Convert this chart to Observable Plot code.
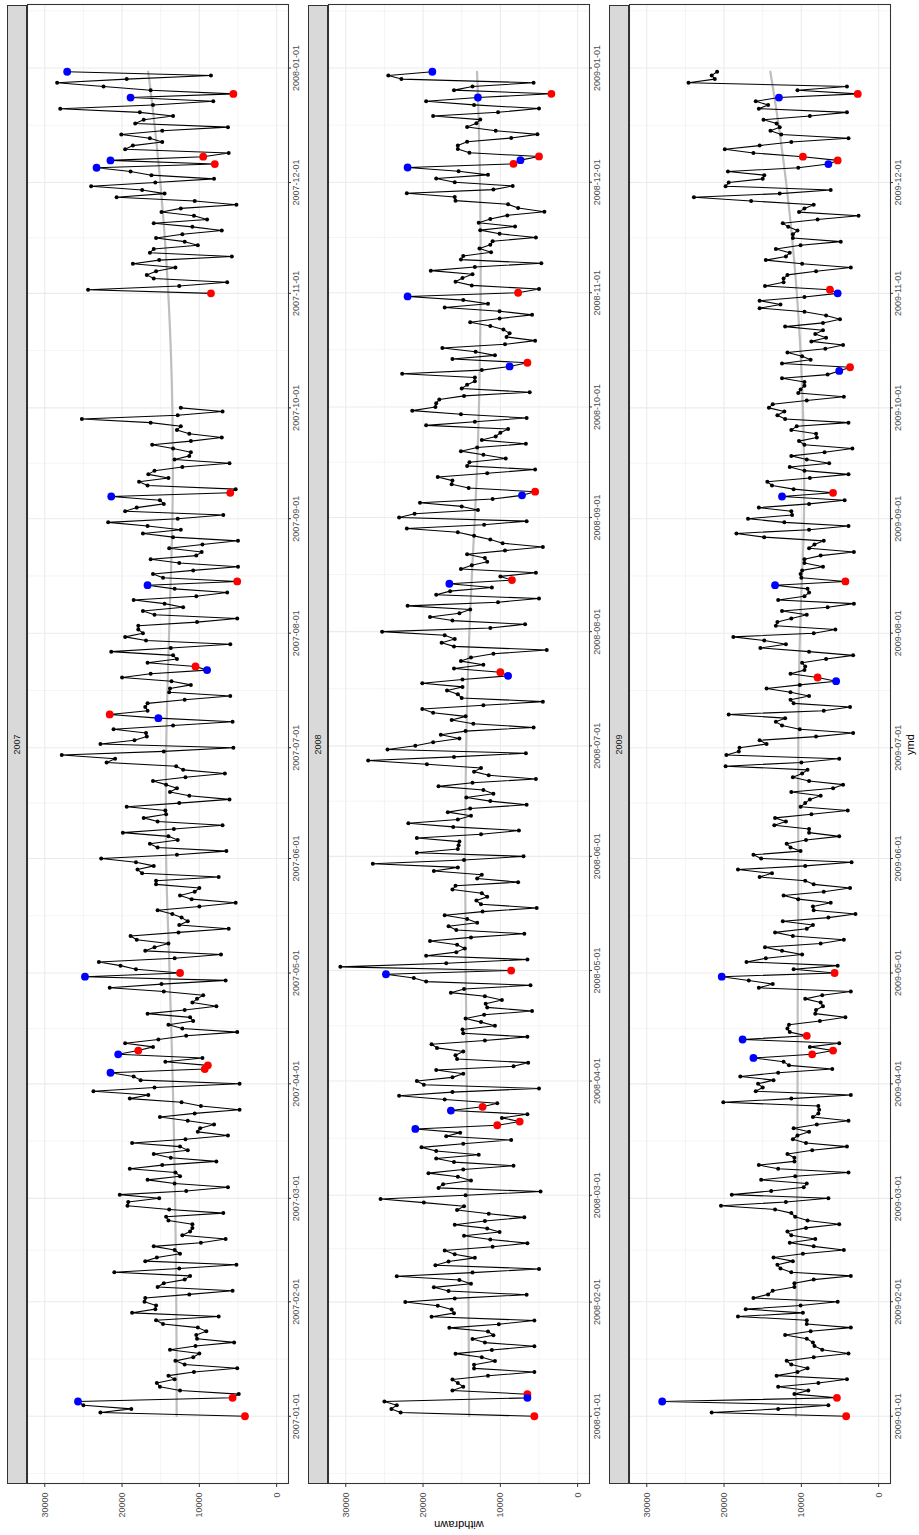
<!DOCTYPE html>
<html>
<head>
<meta charset="utf-8">
<script src="https://cdn.jsdelivr.net/npm/d3@7"></script>
<script src="https://cdn.jsdelivr.net/npm/@observablehq/plot@0.6"></script>
<style>
  html, body { margin: 0; padding: 0; background: #fff; }
  body { width: 919px; height: 1535px; overflow: hidden; position: relative; }
  #page {
    position: absolute; left: 0; top: 0; width: 1535px; height: 919px;
    transform-origin: 0 0; transform: translate(0px, 1535px) rotate(-90deg);
    background: #fff; font-family: "Liberation Sans", Arial, Helvetica, sans-serif;
  }
  .strip {
    position: absolute; background: #d9d9d9; border: 1px solid #333; box-sizing: border-box;
    color: #1a1a1a; font-size: 9px; text-align: center; display: flex; align-items: center; justify-content: center;
  }
  .panel { position: absolute; left: 0; }
  .panel svg { overflow: visible; display: block; }
  .title { position: absolute; font-size: 11px; color: #000; white-space: nowrap; }
</style>
</head>
<body>
<div id="page"></div>
<script>
// ---------------- data (daily withdrawals, starting Jan 1 of each year; null = missing) ----------------
const years = [2007, 2008, 2009];

const withdrawn2007 = [
  // Jan
  4100,22800,18800,25000,25700,5700,4900,12500,15100,15500,13200,14000,10700,5100,11900,13100,10800,10000,13800,10500,5500,10300,10400,9100,10200,14700,15600,7500,18700,15700,15600,
  // Feb
  17100,17000,11300,5700,15400,14600,11900,11200,21000,12600,5200,17000,15500,12500,13200,15900,9800,6600,12200,11200,10900,10900,14000,14300,6900,13900,19300,19200,
  // Mar
  15200,20300,11700,6300,13200,16700,12500,13100,19000,14800,7800,13700,15900,11500,12500,18700,11800,6300,10200,9900,8100,11500,15100,10600,4800,9800,12300,19000,16600,23700,15800,
  // Apr
  4800,17600,18500,21500,9300,8900,14400,9600,20500,17900,16000,19600,15300,11700,5100,12200,14000,10800,11200,16700,11900,7800,10900,10300,9500,14600,21600,14900,6600,24800,
  // May
  12500,18200,20200,23000,13200,7200,17000,15800,14000,18100,18900,12700,6200,12600,11500,12300,13500,15400,10000,5300,11000,12500,10600,10000,15600,15600,7500,17400,18000,15900,18200,
  // Jun
  22700,12900,6500,15400,16400,12800,14000,19900,13300,7000,15400,17200,14300,14400,19400,12600,6100,11300,13800,12900,14300,16000,11800,6700,12100,13000,22000,20900,27800,14600,
  // Jul
  5600,22800,18400,16800,16900,21100,13400,5700,15300,21600,16700,17000,16700,11900,6000,13900,13800,11100,13600,20000,16300,9000,10500,16700,12900,13400,21400,13700,6000,16900,19600,
  // Aug
  17300,17900,17900,10300,5100,15800,17300,12100,14500,18500,10400,6400,13200,16700,5100,14700,16000,10800,5000,12600,16300,10400,9700,13900,9600,5000,13400,17300,12400,16700,21800,
  // Sep
  12800,6900,19600,18100,14600,15100,21400,6000,5300,16700,17800,14000,16600,15800,12200,6100,13200,11300,11100,13400,16100,11100,7100,11300,12900,12400,16300,25200,12800,7000,
  // Oct
  12400,null,null,null,null,null,null,null,null,null,null,null,null,null,null,null,null,null,null,null,null,null,null,null,null,null,null,null,null,null,null,
  // Nov
  8500,24400,12600,6400,15900,16800,15600,13100,18600,15200,5800,16400,15900,10200,11900,15600,12200,7100,10900,15900,9000,10700,14900,12400,5200,10600,20700,14500,17400,24000,
  // Dec
  15700,8100,16200,18900,23300,8000,21500,9500,6200,19600,18600,14800,16400,20100,14800,6300,18300,17200,13400,17700,28000,16000,8200,18900,5600,16300,22400,28400,19400,8500,27100
];

const withdrawn2008 = [
  // Jan
  5600,22900,24100,23400,25000,6500,6500,16200,14800,15500,16200,11600,5600,13400,13400,10700,12400,15800,11100,5600,12000,13600,10900,11600,16600,10200,5600,18900,16000,16300,18100,
  // Feb
  22300,15900,6600,16700,18600,13800,15300,23400,13600,5000,18400,16700,13300,15900,17200,11000,6500,11300,14700,10100,11700,15900,12000,6900,11500,15600,14700,19900,25500,
  // Mar
  14500,4800,18000,17400,13800,15500,19300,14800,8300,16000,18300,12800,18300,20200,14800,8600,17000,15200,21000,10400,7500,9800,6500,16400,12300,10400,17200,23100,16200,5000,19900,
  // Apr
  20800,16200,14800,18300,8300,6400,15600,15800,14800,18200,18900,12000,6500,14800,14900,10700,12500,14500,12100,5900,11700,11900,9800,12000,16400,14700,6100,19600,21200,24800,
  // May
  8600,30700,17000,6500,19600,15700,14600,15600,19100,13800,6900,15700,16700,13000,14300,17200,12300,5300,12500,13100,11700,12400,16200,15800,7700,13000,12400,18600,15500,26500,14700,
  // Jun
  7000,20800,15500,15400,15300,20800,12500,7600,16100,21900,15500,13800,16800,13900,6600,11300,14400,10900,12200,18000,13600,5400,11500,13400,12500,19500,27100,16000,6700,24600,
  // Jul
  21000,18700,15300,17700,14500,5700,13500,16300,14500,18700,20100,12200,4500,15000,15500,16900,14900,20100,14900,9000,10000,16000,12200,15100,13800,10900,4000,16000,17600,15900,17200,
  // Aug
  25300,11300,6800,16200,19100,15300,13900,22000,10300,5000,18300,16500,11100,16600,8500,10000,5400,15100,13700,11700,12000,14300,9400,4500,9700,11300,13400,15500,22100,12100,6600,
  // Sep
  23100,21100,12900,15000,20400,11000,7200,5500,14100,16300,16200,18100,11700,5500,14300,14000,9300,12200,15100,13000,6700,12400,10600,10000,9000,19600,13300,6600,15100,21400,
  // Oct
  18400,18300,17900,14700,6200,15000,14300,13300,13300,22700,12400,8800,6500,16200,10700,13200,17500,9400,5500,9200,8800,9600,11300,13900,10100,5900,10100,17200,11600,14800,22000,
  // Nov
  7700,5000,13700,15800,14900,13600,19000,13300,4700,15100,14800,11200,12700,11300,11000,5400,10100,12600,8100,12800,11300,9100,4300,7700,9000,15800,15900,22100,10900,8400,
  // Dec
  15900,18300,11600,15400,22000,8300,7400,5000,14000,15500,15500,14300,8600,5200,10600,14300,13100,12600,18700,10300,5000,13400,19600,12900,3400,16000,13600,5700,22800,24500,18800
];

const withdrawn2009 = [
  // Jan
  4200,21600,13000,6500,28000,5400,10900,9100,13000,7800,4100,13200,10500,9200,11300,11900,8400,3900,7300,8300,8500,9300,12100,8800,3600,9300,9300,18200,9800,17200,10100,
  // Feb
  5300,16200,14300,13700,10900,10900,8400,3600,11300,12700,13100,11100,13600,9800,4500,8400,11500,8200,11300,11800,9400,5100,9200,10800,11300,13400,20400,12000,
  // Mar
  6500,19000,13900,9700,9300,15200,10800,3900,13000,15500,10900,10900,11800,8600,4100,9400,11100,10500,9000,11000,8000,3900,8500,7800,7700,7800,20100,11300,3600,15900,15000,
  // Apr
  15600,13600,17900,13000,6000,11600,12300,16200,8600,5900,8900,5100,17600,9300,11500,11800,11600,7600,4300,8200,8100,7200,7500,9500,7300,3600,15500,13700,16800,20300,
  // May
  5700,11000,5300,17100,14600,9900,12500,14700,7500,4500,11100,13400,9300,8500,12400,6500,3000,8400,8500,6200,10400,12300,7100,3700,8400,9500,15400,13800,18200,9500,3500,
  // Jun
  15200,16200,10100,11400,11900,9400,5100,9000,9000,13500,12000,13400,8700,4000,10100,9500,8900,7500,11300,5900,4600,9000,11100,9900,9200,19800,10000,5100,19700,18100,
  // Jul
  18000,14500,15400,8100,3300,10200,12500,13300,12100,19400,7100,3700,11000,11400,9000,11400,14500,10200,5500,7900,11400,9600,9500,9900,6800,3300,9000,15300,12000,14800,18800,
  // Aug
  8400,5600,13300,13100,11300,9300,12500,6600,3200,13000,9600,9000,9200,13400,4300,10000,10100,9900,7200,9600,9600,7500,3200,9000,8300,7100,14800,18400,9000,3900,12200,
  // Sep
  16900,11200,11300,15500,9000,4400,12500,5900,11000,13800,14400,8900,3900,9600,11500,6400,9300,11300,7000,3400,9600,10300,8000,8100,11300,10600,3900,12100,13100,12200,
  // Oct
  14200,13700,9300,4500,10400,10100,9600,9600,12500,6600,5100,3700,12500,8800,9900,11800,6900,4600,8700,6800,8200,7200,12100,7200,5000,6800,9600,15400,12700,15400,9600,
  // Nov
  5300,6300,14700,12300,12300,11800,8100,3600,9900,14600,12000,11500,13300,10100,4900,11100,11100,10500,11700,12400,7900,2600,10300,9600,8400,16500,23900,12800,6200,19800,
  // Dec
  19400,15000,14800,19500,10400,6500,5300,9800,16200,19900,15400,11300,3900,12600,14000,12800,13200,14900,8900,4100,15500,14300,15900,12900,2700,10500,4100,24600,21200,21600,20900
];

// highlighted days (red = holiday, blue = day before)
const red2007  = ["2007-01-01","2007-01-06","2007-04-05","2007-04-06","2007-04-10","2007-05-01","2007-07-10","2007-07-23","2007-08-15","2007-09-08","2007-11-01","2007-12-06","2007-12-08","2007-12-25"];
const blue2007 = ["2007-01-05","2007-04-04","2007-04-09","2007-04-30","2007-07-09","2007-07-22","2007-08-14","2007-09-07","2007-12-05","2007-12-07","2007-12-24","2007-12-31"];
const red2008  = ["2008-01-01","2008-01-07","2008-03-20","2008-03-21","2008-03-25","2008-05-01","2008-07-21","2008-08-15","2008-09-08","2008-10-13","2008-11-01","2008-12-06","2008-12-08","2008-12-25"];
const blue2008 = ["2008-01-06","2008-03-19","2008-03-24","2008-04-30","2008-07-20","2008-08-14","2008-09-07","2008-10-12","2008-10-31","2008-12-05","2008-12-07","2008-12-24","2008-12-31"];
const red2009  = ["2009-01-01","2009-01-06","2009-04-09","2009-04-10","2009-04-14","2009-05-01","2009-07-20","2009-08-15","2009-09-08","2009-10-12","2009-11-02","2009-12-07","2009-12-08","2009-12-25"];
const blue2009 = ["2009-01-05","2009-04-08","2009-04-13","2009-04-30","2009-07-19","2009-08-14","2009-09-07","2009-10-11","2009-11-01","2009-12-06","2009-12-24"];

const yTicks = [0, 10000, 20000, 30000];
// last labelled date break of each panel
const lastDateLabel = {2007: "2008-01-01", 2008: "2009-01-01", 2009: "2009-12-01"};
const stripLabels = ["2007", "2008", "2009"];
const xTitle = "ymd";
const yTitle = "withdrawn";

// ---------------- helpers ----------------
const fmt = d3.utcFormat("%Y-%m-%d");
const DAY = 864e5;

function buildRows(year, values) {
  const start = Date.UTC(year, 0, 1);
  return values.map((v, i) => ({date: new Date(start + i * DAY), value: v == null ? NaN : v}));
}

// local quadratic loess (span 0.75, tricube weights), like ggplot2's geom_smooth default
function loess(xs, ys, evalXs, span = 0.75) {
  const n = xs.length, q = Math.floor(n * span);
  return evalXs.map(x0 => {
    const d = xs.map(x => Math.abs(x - x0));
    const h = d.slice().sort((a, b) => a - b)[q - 1] * 1.0000001;
    let s0 = 0, s1 = 0, s2 = 0, s3 = 0, s4 = 0, t0 = 0, t1 = 0, t2 = 0;
    for (let i = 0; i < n; i++) {
      const u = d[i] / h;
      if (u >= 1) continue;
      const w = Math.pow(1 - u * u * u, 3);
      const t = xs[i] - x0, y = ys[i];
      s0 += w; s1 += w * t; s2 += w * t * t; s3 += w * t * t * t; s4 += w * t * t * t * t;
      t0 += w * y; t1 += w * t * y; t2 += w * t * t * y;
    }
    const det3 = (a, b, c, d, e, f, g, h2, k) => a * (e * k - f * h2) - b * (d * k - f * g) + c * (d * h2 - e * g);
    const D = det3(s0, s1, s2, s1, s2, s3, s2, s3, s4);
    const D0 = det3(t0, s1, s2, t1, s2, s3, t2, s3, s4);
    return D0 / D;
  });
}

// ---------------- layout (drawn in ggplot's native orientation, then rotated) ----------------
const W = 1535, ML = 51, MR = 5, PANEL_H = 261, AXIS_H = 20, STRIP_H = 20;
const stripTops = [7, 308, 609];
const page = document.getElementById("page");

const allRows = {
  2007: buildRows(2007, withdrawn2007),
  2008: buildRows(2008, withdrawn2008),
  2009: buildRows(2009, withdrawn2009)
};
const reds = {2007: red2007, 2008: red2008, 2009: red2009};
const blues = {2007: blue2007, 2008: blue2008, 2009: blue2009};

// shared y scale: [0, max] expanded by 5%
const yMax = d3.max(years.flatMap(y => allRows[y].map(r => r.value).filter(v => !isNaN(v))));
const yDomain = [0 - 0.05 * yMax, yMax + 0.05 * yMax];
const yExt = [2 * yTicks[0] - yTicks[1], ...yTicks, 2 * yTicks[yTicks.length - 1] - yTicks[yTicks.length - 2]];
const yMinor = d3.pairs(yExt, (a, b) => (a + b) / 2).filter(v => v >= yDomain[0] && v <= yDomain[1]);

const axisStyle = {stroke: "#333", fill: "#4d4d4d", fontSize: 9};

years.forEach((year, idx) => {
  const rows = allRows[year];
  const x0 = rows[0].date, x1 = rows[rows.length - 1].date;
  const span = x1 - x0;
  const xDomain = [new Date(+x0 - 0.05 * span), new Date(+x1 + 0.05 * span)];
  const majors = d3.utcMonth.range(xDomain[0], xDomain[1]);
  const labelled = majors.filter(d => fmt(d) <= lastDateLabel[year]);
  const xExt = [new Date(2 * majors[0] - majors[1]), ...majors,
                new Date(2 * majors[majors.length - 1] - majors[majors.length - 2])];
  const xMinor = d3.pairs(xExt, (a, b) => new Date((+a + +b) / 2)).filter(d => d >= xDomain[0] && d <= xDomain[1]);

  const valid = rows.filter(r => !isNaN(r.value));
  const xs = valid.map(r => +r.date / DAY), ys = valid.map(r => r.value);
  const evalXs = d3.range(80).map(i => xs[0] + (xs[xs.length - 1] - xs[0]) * i / 79);
  const fit = loess(xs, ys, evalXs);
  const smooth = evalXs.map((x, i) => ({date: new Date(x * DAY), value: fit[i]}));

  const redSet = new Set(reds[year]), blueSet = new Set(blues[year]);
  const redRows = valid.filter(r => redSet.has(fmt(r.date)));
  const blueRows = valid.filter(r => blueSet.has(fmt(r.date)));

  // strip
  const strip = document.createElement("div");
  strip.className = "strip";
  strip.style.left = ML + "px";
  strip.style.top = stripTops[idx] + "px";
  strip.style.width = (W - ML - MR) + "px";
  strip.style.height = STRIP_H + "px";
  strip.textContent = stripLabels[idx];
  page.appendChild(strip);

  const chart = Plot.plot({
    width: W,
    height: PANEL_H + AXIS_H,
    marginLeft: ML, marginRight: MR, marginTop: 0, marginBottom: AXIS_H,
    x: {type: "utc", domain: xDomain},
    y: {domain: yDomain},
    style: {background: "white", color: "#4d4d4d", fontFamily: '"Liberation Sans", Arial, Helvetica, sans-serif', fontSize: "9px", overflow: "visible"},
    marks: [
      Plot.ruleY(yMinor, {stroke: "#ebebeb", strokeWidth: 0.55}),
      Plot.ruleX(xMinor, {stroke: "#ebebeb", strokeWidth: 0.55}),
      Plot.ruleY(yTicks, {stroke: "#ebebeb", strokeWidth: 1.1}),
      Plot.ruleX(majors, {stroke: "#ebebeb", strokeWidth: 1.1}),
      Plot.line(smooth, {x: "date", y: "value", stroke: "#bebebe", strokeWidth: 2.2}),
      Plot.line(rows, {x: "date", y: "value", stroke: "black", strokeWidth: 1.07}),
      Plot.dot(valid, {x: "date", y: "value", r: 2, fill: "black"}),
      Plot.dot(redRows, {x: "date", y: "value", r: 3.9, fill: "#ff0000"}),
      Plot.dot(blueRows, {x: "date", y: "value", r: 3.9, fill: "#0000ff"}),
      Plot.frame({stroke: "#333", strokeWidth: 1.07}),
      Plot.axisX(labelled, {tickFormat: fmt, tickSize: 3, tickPadding: 1, label: null, ...axisStyle}),
      Plot.axisY(yTicks, {tickFormat: d3.format("d"), tickSize: 3, tickPadding: 6, label: null, ...axisStyle})
    ]
  });
  const holder = document.createElement("div");
  holder.className = "panel";
  holder.style.top = (stripTops[idx] + STRIP_H) + "px";
  holder.appendChild(chart);
  page.appendChild(holder);
});

// axis titles
const xt = document.createElement("div");
xt.className = "title";
xt.textContent = xTitle;
xt.style.left = (ML + (W - ML - MR) / 2) + "px";
xt.style.top = "904px";
xt.style.transform = "translateX(-50%)";
page.appendChild(xt);

const yt = document.createElement("div");
yt.className = "title";
yt.textContent = yTitle;
yt.style.left = "10px";
yt.style.top = ((stripTops[0] + STRIP_H + stripTops[2] + STRIP_H + PANEL_H) / 2) + "px";
yt.style.transform = "translate(-50%, -50%) rotate(-90deg)";
page.appendChild(yt);
</script>
</body>
</html>
